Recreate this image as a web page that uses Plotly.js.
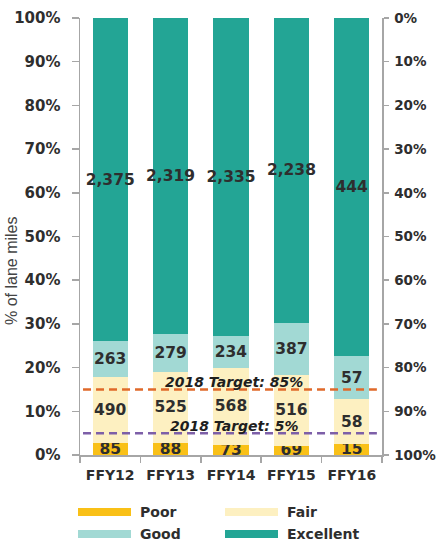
<!DOCTYPE html>
<html><head><meta charset="utf-8">
<script src="https://cdn.plot.ly/plotly-3.0.1.min.js"></script>
<style>html,body{margin:0;padding:0;background:#fff}#chart{width:437px;height:542px}</style>
</head><body><div id="chart"></div>
<script>
const categories = ['FFY12','FFY13','FFY14','FFY15','FFY16'];
const poor = [85, 88, 73, 69, 15];
const fair = [490, 525, 568, 516, 58];
const good = [263, 279, 234, 387, 57];
const excellent = [2375, 2319, 2335, 2238, 444];
const seriesNames = ['Poor', 'Fair', 'Good', 'Excellent'];
const seriesColors = ['#f9c017', '#fdf0c1', '#a2d9d4', '#23a595'];
const leftTickVals = [0,10,20,30,40,50,60,70,80,90,100];
const leftTickText = ['0%','10%','20%','30%','40%','50%','60%','70%','80%','90%','100%'];
const rightTickText = ['0%','10%','20%','30%','40%','50%','60%','70%','80%','90%','100%'];
const targetValues = [15, 5];
const targetLabels = ['2018 Target: 85%', '2018 Target: 5%'];
const targetColors = ['#e0692a', '#7d5fa8'];
const yTitle = '% of lane miles';

const FONT = 'DejaVu Sans, sans-serif';
const TXT = '#2e2e2e';
const AXC = '#a6a6a6';
const seriesValues = [poor, fair, good, excellent];

const traces = seriesValues.map((vals, i) => ({
  type: 'bar', x: categories, y: vals, name: seriesNames[i],
  marker: {color: seriesColors[i], line: {width: 0}},
  text: vals.map(v => v.toLocaleString('en-US')),
  textposition: 'inside', insidetextanchor: 'middle', textangle: 0,
  constraintext: 'none', cliponaxis: false,
  insidetextfont: {family: FONT, size: 15.5, color: TXT, weight: 'bold'},
  showlegend: false, hoverinfo: 'skip'
}));
traces.push({type: 'scatter', x: [], y: [], yaxis: 'y2', showlegend: false, hoverinfo: 'skip'});

const P = (px) => (px - 80) / 302;
const Q = (py) => (455 - py) / 437;

const shapes = [];
const annotations = [];
targetValues.forEach((t, i) => {
  shapes.push({type: 'line', xref: 'paper', x0: 0.01, x1: 0.983, yref: 'y', y0: t, y1: t,
    line: {color: targetColors[i], width: 2.5, dash: '8px,5px'}, layer: 'above'});
  annotations.push({xref: 'paper', x: 0.51, yref: 'y', y: t, yshift: 7.5, showarrow: false,
    text: targetLabels[i], font: {family: FONT, size: 14, color: '#1e1e1e', style: 'italic', weight: 'bold'}});
});

// y axis title (placed as in the reference, below the plot centre)
annotations.push({xref: 'paper', yref: 'paper', x: P(11), y: Q(271), textangle: -90, showarrow: false,
  xanchor: 'center', yanchor: 'middle', text: yTitle,
  font: {family: 'Liberation Sans, Arial, sans-serif', size: 16, color: '#444'}});

// legend built from series names / colours
seriesNames.forEach((n, i) => {
  const col = i % 2, row = Math.floor(i / 2);
  const sx0 = col === 0 ? 78 : 225;
  const cy = row === 0 ? 512 : 534;
  shapes.push({type: 'rect', xref: 'paper', yref: 'paper', x0: P(sx0), x1: P(sx0 + 53),
    y0: Q(cy - 4), y1: Q(cy + 4), fillcolor: seriesColors[i], line: {width: 0}});
  annotations.push({xref: 'paper', yref: 'paper', x: P(sx0 + 60), y: Q(cy), xanchor: 'left', yanchor: 'middle',
    showarrow: false, text: n, font: {family: FONT, size: 14, color: TXT, weight: 'bold'}});
});

const tickFont = {family: FONT, size: 14, color: TXT, weight: 'bold'};
const layout = {
  width: 437, height: 542,
  margin: {l: 80, r: 55, t: 18, b: 87},
  paper_bgcolor: '#fff', plot_bgcolor: '#fff',
  barmode: 'stack', barnorm: 'percent', bargap: 0.42,
  showlegend: false,
  xaxis: {type: 'category', showline: true, linecolor: AXC, linewidth: 1.5, ticks: 'outside',
    tickson: 'boundaries', ticklen: 6, tickcolor: AXC, tickwidth: 1.5, tickfont: tickFont,
    ticklabelstandoff: 7, showgrid: false, zeroline: false, fixedrange: true},
  yaxis: {range: [0, 100], tickvals: leftTickVals, ticktext: leftTickText, showline: true,
    linecolor: AXC, linewidth: 1.5, ticks: 'outside', ticklen: 7, tickcolor: AXC, tickwidth: 1.5,
    tickfont: Object.assign({}, tickFont, {size: 15}), showgrid: false, zeroline: false, ticklabelstandoff: 8},
  yaxis2: {overlaying: 'y', side: 'right', anchor: 'x', range: [100, 0], tickvals: leftTickVals,
    ticktext: rightTickText, showline: true, linecolor: AXC, linewidth: 1.5, ticks: 'outside',
    ticklen: 5, tickcolor: AXC, tickwidth: 1.5, tickfont: Object.assign({}, tickFont, {size: 13.5}),
    showgrid: false, zeroline: false, ticklabelstandoff: 3},
  shapes: shapes,
  annotations: annotations
};
Plotly.newPlot('chart', traces, layout, {displayModeBar: false, staticPlot: true});
</script>
</body></html>
